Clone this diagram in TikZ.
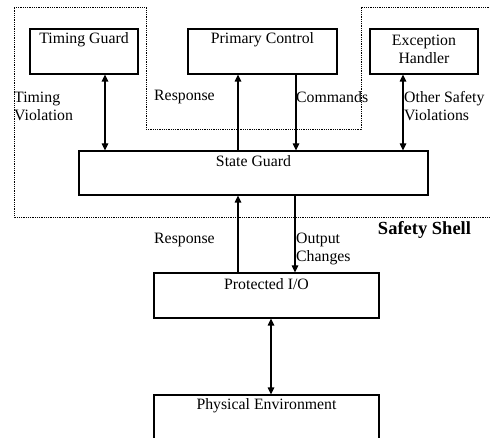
\documentclass[tikz,border=0pt]{standalone}
\usepackage{fontspec}
\setmainfont{Liberation Serif}
\usetikzlibrary{arrows.meta,calc}
\tikzset{
  box/.style={draw, line width=1.2pt, inner sep=0pt, rectangle},
  txt/.style={font=\fontsize{15.8}{18}\selectfont, inner sep=0pt},
  lbl/.style={font=\fontsize{15.8}{18}\selectfont, inner sep=0pt, anchor=west, align=left},
  conn/.style={line width=1.2pt, -{Triangle[length=7pt,width=6.5pt]}},
  biconn/.style={line width=1.2pt, {Triangle[length=7pt,width=6.5pt]}-{Triangle[length=7pt,width=6.5pt]}},
  shell/.style={densely dotted, line width=0.8pt}
}
\begin{document}
\begin{tikzpicture}[x=1pt,y=-1pt]
\useasboundingbox (0,0) rectangle (490,438);
% safety shell
\draw[shell] (500,7) -- (361,7) -- (361,129) -- (146,129) -- (146,7) -- (14,7) -- (14,217) -- (500,217);
% boxes
\node[box, minimum width=108pt, minimum height=45pt] (tg) at (84,51.5) {};
\node[box, minimum width=149pt, minimum height=45pt] (pc) at (262.5,51.5) {};
\node[box, minimum width=108pt, minimum height=45pt] (eh) at (424,51.5) {};
\node[box, minimum width=349pt, minimum height=44pt] (sg) at (253.5,173) {};
\node[box, minimum width=225pt, minimum height=45pt] (pio) at (266.5,295.5) {};
\node[box, minimum width=225pt, minimum height=55pt] (pe) at (266.5,422.5) {};
% box texts
\node[txt] (tgt) at ($(tg.north)+(0,11)$) {Timing Guard};
\node[txt] (pct) at ($(pc.north)+(0,11)$) {Primary Control};
\node[txt, align=center] (eht) at (424,49) {Exception\\Handler};
\node[txt] (sgt) at ($(sg.north)+(0,11)$) {State Guard};
\node[txt] (piot) at ($(pio.north)+(0,12)$) {Protected I/O};
\node[txt] (pet) at ($(pe.north)+(0,11)$) {Physical Environment};
\node[txt, font=\fontsize{18.5}{21}\selectfont\bfseries] (ss) at (424.5,230) {Safety Shell};
% connectors
\coordinate (a1) at (105,0);
\draw[biconn] (tg.south -| a1) -- (sg.north -| a1);
\coordinate (a2) at (238,0);
\draw[conn] (sg.north -| a2) -- (pc.south -| a2);
\coordinate (a3) at (296,0);
\draw[conn] (pc.south -| a3) -- (sg.north -| a3);
\coordinate (a4) at (403,0);
\draw[biconn] (eh.south -| a4) -- (sg.north -| a4);
\draw[conn] (pio.north -| a2) -- (sg.south -| a2);
\coordinate (a5) at (295,0);
\draw[conn] (sg.south -| a5) -- (pio.north -| a5);
\coordinate (a6) at (271,0);
\draw[biconn] (pio.south -| a6) -- (pe.north -| a6);
% labels
\node[lbl] (l1) at (14,106) {Timing\\Violation};
\node[lbl] (l2) at (154,97) {Response};
\node[lbl] (l3) at (296,97) {Commands};
\node[lbl] (l4) at (404,106) {Other Safety\\Violations};
\node[lbl] (l5) at (154,240) {Response};
\node[lbl] (l6) at (296,249) {Output\\Changes};
\end{tikzpicture}
\end{document}
